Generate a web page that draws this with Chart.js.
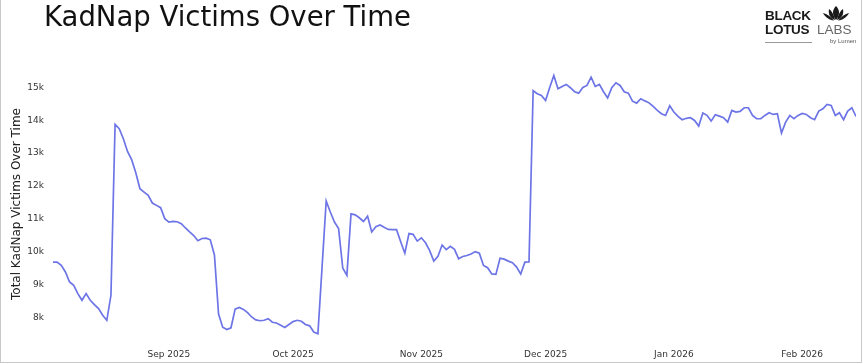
<!DOCTYPE html>
<html>
<head>
<meta charset="utf-8">
<script src="https://cdn.jsdelivr.net/npm/chart.js@4.4.1/dist/chart.umd.min.js"></script>
<style>
  html, body { margin: 0; padding: 0; background: #fff; }
  #wrap { position: relative; width: 862px; height: 364px; overflow: hidden; }
  #frame { position: absolute; left: 0; top: 0; width: 862px; height: 363px; box-sizing: border-box;
           border: 1px solid #c8c8c8; border-top: none; pointer-events: none; }
  #title { position: absolute; left: 44px; top: 0px; font: 27.5px "DejaVu Sans", sans-serif; color: #111; }
  #logo { position: absolute; left: 765px; top: 5px; width: 92px; height: 44px; font-family: "Liberation Sans", Arial, sans-serif; }
  #logo .b { position: absolute; font-weight: bold; font-size: 13.5px; color: #1a1a1a; letter-spacing: -0.3px; line-height: 14px; }
  #logo .l { position: absolute; font-size: 13.5px; color: #666; line-height: 14px; }
  #logo .s { position: absolute; font-size: 6px; color: #555; }
  #logo .rule { position: absolute; left: 0; top: 37px; width: 47px; height: 1px; background: #999; }
</style>
</head>
<body>
<div id="wrap">
  <canvas id="chart" width="862" height="364"></canvas>
  <div id="title">KadNap Victims Over Time</div>
  <div id="logo">
    <span class="b" style="left:0;top:4px">BLACK</span>
    <span class="b" style="left:0;top:18px">LOTUS</span>
    <span class="l" style="left:52px;top:18px">LABS</span>
    <span class="s" style="left:65px;top:33px">by Lumen</span>
    <div class="rule"></div>
    <svg style="position:absolute;left:56px;top:0" width="30" height="17" viewBox="0 0 30 17">
      <g fill="#1a1a1a">
        <path d="M15 1 C11 5 11 10 15 15 C19 10 19 5 15 1 Z"/>
        <path d="M8 4 C7 9 9 13 14 15 C13 10 11 6 8 4 Z"/>
        <path d="M22 4 C23 9 21 13 16 15 C17 10 19 6 22 4 Z"/>
        <path d="M2 8 C4 12 8 15 13 15.5 C10 12 6 9 2 8 Z"/>
        <path d="M28 8 C26 12 22 15 17 15.5 C20 12 24 9 28 8 Z"/>
      </g>
    </svg>
  </div>
  <div id="frame"></div>
</div>
<script>
// daily totals, starting at startDate
const startDate = '2025-08-04';
const victims = [
  9683, 9683, 9582, 9380, 9075, 8974, 8721, 8517, 8721, 8517, 8386, 8265, 8061, 7909, 8670,
  13873, 13742, 13438, 13050, 12800, 12400, 11917, 11813, 11713, 11480, 11408, 11338, 11004,
  10900, 10921, 10910, 10850, 10720, 10600, 10490, 10330, 10400, 10410, 10360, 9900, 8100, 7700,
  7626, 7680, 8250, 8300, 8240, 8140, 8010, 7920, 7895, 7910, 7960, 7850, 7827, 7760, 7690, 7780,
  7870, 7909, 7880, 7780, 7740, 7550, 7500, 9520,
  11540, 11205, 10900, 10700, 9500, 9278, 11150, 11120, 11030, 10920, 11080, 10600, 10760, 10810,
  10740, 10675, 10668, 10668, 10300, 9950, 10550, 10526, 10320, 10420,
  10270, 10030, 9713, 9856, 10200, 10060, 10160, 10070, 9780, 9850, 9880, 9930, 10000, 9950,
  9580, 9510, 9320, 9308, 9800, 9770, 9710, 9660, 9530, 9320, 9680, 9683,
  14900, 14807, 14756, 14604, 15000, 15365, 14960, 15030, 15091, 14990, 14870, 14826, 15000, 15060,
  15313, 15030, 15091, 14870, 14680, 14990, 15142, 15060, 14870, 14826, 14580, 14522, 14655, 14590,
  14530, 14420, 14300, 14200, 14147, 14440, 14250, 14120, 14016, 14060, 14077, 13995, 13822, 14220,
  14150, 13974, 14169, 14126, 14077, 13944, 14300, 14248, 14269, 14381, 14381, 14147, 14046, 14046,
  14147, 14229, 14177, 14199, 13611, 13944, 14147, 14046, 14147, 14208, 14177, 14077, 14016, 14278,
  14350, 14482, 14452, 14147, 14229, 14016, 14278, 14381, 14116
];
const monthDates = ['2025-09-01', '2025-10-01', '2025-11-01', '2025-12-01', '2026-01-01', '2026-02-01'];
const monthLabels = ['Sep 2025', 'Oct 2025', 'Nov 2025', 'Dec 2025', 'Jan 2026', 'Feb 2026'];
const yTicks = [8000, 9000, 10000, 11000, 12000, 13000, 14000, 15000];

const DAY = 86400000;
const t0 = Date.parse(startDate + 'T00:00:00Z');
const dayOf = d => Math.round((Date.parse(d + 'T00:00:00Z') - t0) / DAY);
const monthDays = monthDates.map(dayOf);

const points = victims.map((v, i) => ({ x: i, y: v }));

const tickFont = { family: 'DejaVu Sans', size: 9 };

new Chart(document.getElementById('chart'), {
  type: 'line',
  data: {
    datasets: [{
      label: 'Total KadNap Victims',
      data: points,
      borderColor: '#6d75e6',
      borderWidth: 1.7,
      pointRadius: 0,
      tension: 0,
      fill: false
    }]
  },
  options: {
    responsive: false,
    animation: false,
    devicePixelRatio: 1,
    layout: { padding: { top: 71, right: 6, left: 0, bottom: 0 } },
    plugins: { legend: { display: false }, tooltip: { enabled: false } },
    scales: {
      x: {
        type: 'linear',
        min: 0,
        max: victims.length - 1,
        grid: { display: false },
        border: { display: false },
        afterBuildTicks: s => { s.ticks = monthDays.map(v => ({ value: v })); },
        afterFit: s => { s.height = 27; },
        ticks: {
          font: tickFont,
          color: '#333',
          padding: 4,
          maxRotation: 0,
          callback: v => monthLabels[monthDays.indexOf(v)]
        }
      },
      y: {
        min: 7400,
        max: 15500,
        grid: { display: false },
        border: { display: false },
        afterBuildTicks: s => { s.ticks = yTicks.map(v => ({ value: v })); },
        afterFit: s => { s.width = 53; },
        title: {
          display: true,
          text: 'Total KadNap Victims Over Time',
          font: { family: 'DejaVu Sans', size: 12 },
          color: '#222',
          padding: { top: 10, bottom: 0 }
        },
        ticks: {
          font: tickFont,
          color: '#333',
          padding: 1,
          callback: v => (v / 1000) + 'k'
        }
      }
    }
  }
});
</script>
</body>
</html>
